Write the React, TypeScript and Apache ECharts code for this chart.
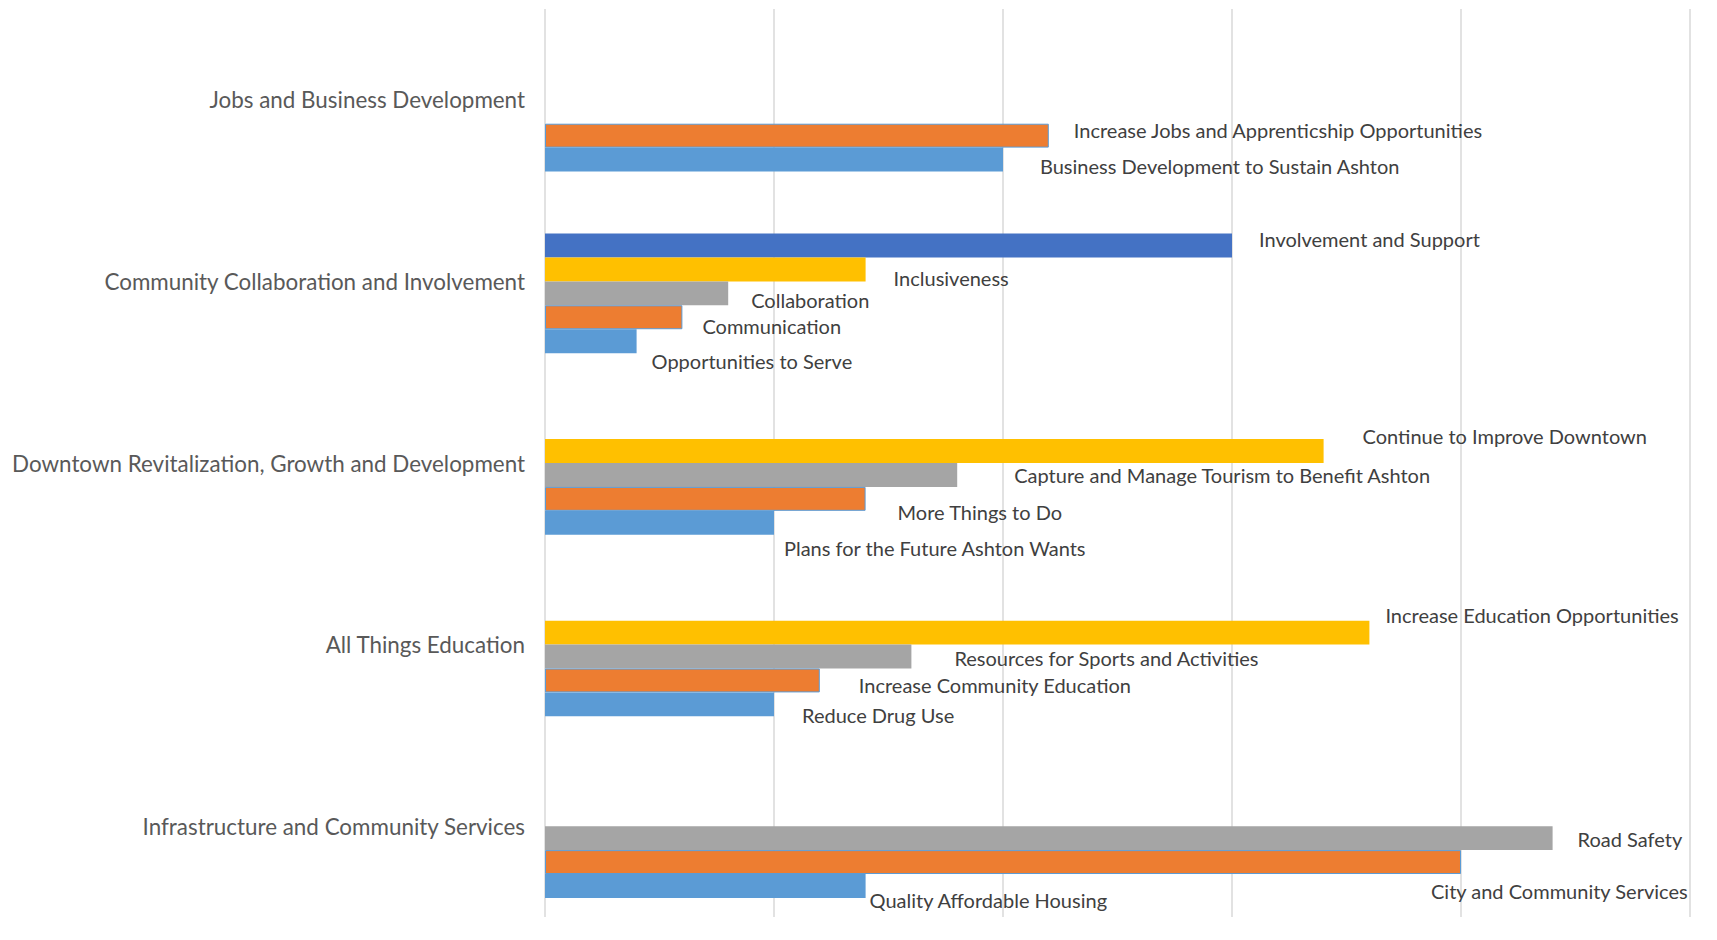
import React, { useEffect, useRef } from "react";
import * as echarts from "echarts";

// Categories listed bottom to top
const categories = [
  "Infrastructure and Community Services",
  "All Things Education",
  "Downtown Revitalization, Growth and Development",
  "Community Collaboration and Involvement",
  "Jobs and Business Development",
];

const series1Values = [7, 5, 5, 2, 10];
const series1Labels = [
  "Quality Affordable Housing",
  "Reduce Drug Use",
  "Plans for the Future Ashton Wants",
  "Opportunities to Serve",
  "Business Development to Sustain Ashton",
];

const series2Values = [20, 6, 7, 3, 11];
const series2Labels = [
  "City and Community Services",
  "Increase Community Education",
  "More Things to Do",
  "Communication",
  "Increase Jobs and Apprenticship Opportunities",
];

const series3Values = [22, 8, 9, 4, null];
const series3Labels = [
  "Road Safety",
  "Resources for Sports and Activities",
  "Capture and Manage Tourism to Benefit Ashton",
  "Collaboration",
  "",
];

const series4Values = [null, 18, 17, 7, null];
const series4Labels = [
  "",
  "Increase Education Opportunities",
  "Continue to Improve Downtown",
  "Inclusiveness",
  "",
];

const series5Values = [null, null, null, 15, null];
const series5Labels = ["", "", "", "Involvement and Support", ""];

const series6Values = [null, null, null, null, null];

// label offsets (style only), [dx, dy] per category
const offsets1 = [[4, 14], [28, 11], [10, 25], [15, 20], [37, 6]];
const offsets2 = [[-30, 29], [39, 5], [32, 13], [20, 9], [25, -6]];
const offsets3 = [[25, 1], [43, 1], [57, 0], [23, 7], [0, 0]];
const offsets4 = [[0, 0], [16, -18], [39, -15], [28, 9], [0, 0]];
const offsets5 = [[0, 0], [0, 0], [0, 0], [27, -7], [0, 0]];

const FONT = "Lato";

function buildData(values: (number | null)[], labels: string[], offs: number[][]) {
  return values.map((v, i) => ({
    value: v,
    label: { offset: offs[i], formatter: labels[i] },
  }));
}

export default function App() {
  const ref = useRef<HTMLDivElement>(null);
  useEffect(() => {
    if (!ref.current) return;
    const chart = echarts.init(ref.current, null, { renderer: "svg" });
    const labelStyle = {
      show: true,
      position: "right",
      distance: 0,
      color: "#404040",
      fontFamily: FONT,
      fontSize: 20,
    };
    const mk = (name: string, values: any[], labels: string[], offs: number[][], color: string, border?: string) => ({
      name,
      type: "bar",
      data: buildData(values, labels, offs),
      itemStyle: border ? { color, borderColor: border, borderWidth: 1 } : { color },
      label: labelStyle,
      barGap: "0%",
      barCategoryGap: "21%",
    });
    // ECharts lays series from the top of each band downward; list top slot first
    const seriesList = [
      mk("S6", series6Values, ["", "", "", "", ""], offsets5, "#70AD47"),
      mk("S5", series5Values, series5Labels, offsets5, "#4472C4"),
      mk("S4", series4Values, series4Labels, offsets4, "#FFC000"),
      mk("S3", series3Values, series3Labels, offsets3, "#A5A5A5"),
      mk("S2", series2Values, series2Labels, offsets2, "#ED7D31", "#5B9BD5"),
      mk("S1", series1Values, series1Labels, offsets1, "#5B9BD5"),
    ];
    chart.setOption({
      animation: false,
      backgroundColor: "#ffffff",
      grid: { left: 545, right: 27, top: 9, bottom: 23, containLabel: false },
      xAxis: {
        type: "value",
        min: 0,
        max: 25,
        interval: 5,
        axisLabel: { show: false },
        axisLine: { show: false },
        axisTick: { show: false },
        splitLine: { show: true, lineStyle: { color: "#D9D9D9", width: 1.5 } },
      },
      yAxis: {
        type: "category",
        data: categories,
        axisLine: { show: false },
        axisTick: { show: false },
        axisLabel: { color: "#595959", fontFamily: FONT, fontSize: 22.4, margin: 20 },
      },
      series: seriesList,
    });
    return () => chart.dispose();
  }, []);
  return (
    <div
      ref={ref}
      style={{ position: "absolute", left: 0, top: 0, width: 1717, height: 940, background: "#fff" }}
    />
  );
}
